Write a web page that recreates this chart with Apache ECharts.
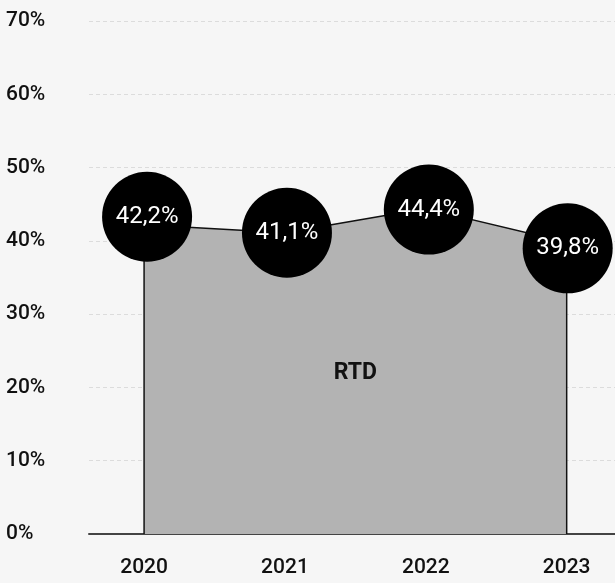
<!DOCTYPE html>
<html>
<head>
<meta charset="utf-8">
<script src="https://cdn.jsdelivr.net/npm/echarts@6/dist/echarts.min.js"></script>
<style>
  html, body { margin: 0; padding: 0; background: #f6f6f6; }
  #chart { width: 615px; height: 583px; }
</style>
</head>
<body>
<div id="chart"></div>
<script>
// data
var years = [2020, 2021, 2022, 2023];
var shares = [42.2, 41.1, 44.4, 39.8];
var seriesName = "RTD";
var yTicks = [0, 10, 20, 30, 40, 50, 60, 70];

// small nudges of the bubbles, as in the original
var bubbleShift = [[3, -8], [2, 0], [3, 1], [1, 6]];

var font = "Roboto, 'DejaVu Sans', sans-serif";

function pct(v) {
  return v.toFixed(1).replace(".", ",") + "%";
}

// area outline: down to the axis at both ends so the sides get a stroke
var outline = [[years[0], 0]];
years.forEach(function (y, i) {
  outline.push([y, shares[i]]);
});
outline.push([years[years.length - 1], 0]);

var bubbles = years.map(function (y, i) {
  return {
    value: [y, shares[i]],
    symbolOffset: bubbleShift[i],
  };
});

var chart = echarts.init(document.getElementById("chart"));

var option = {
  backgroundColor: "#f6f6f6",
  animation: false,
  grid: {
    left: 89,
    right: 0,
    top: 21,
    bottom: 49,
  },
  xAxis: {
    type: "value",
    min: 2019.609,
    max: 2023.343,
    axisLine: {
      show: true,
      onZero: false,
      lineStyle: { color: "#444", width: 2 },
    },
    axisTick: { show: false },
    splitLine: { show: false },
    axisLabel: {
      customValues: years,
      formatter: function (v) { return String(v); },
      color: "#111",
      fontFamily: font,
      fontWeight: 500,
      fontSize: 21,
      margin: 23,
    },
  },
  yAxis: {
    type: "value",
    min: yTicks[0],
    max: yTicks[yTicks.length - 1],
    interval: 10,
    axisLine: { show: false },
    axisTick: { show: false },
    splitLine: {
      lineStyle: { color: "#dcdcdc", type: [4, 3], width: 1 },
    },
    axisLabel: {
      formatter: "{value}%",
      align: "left",
      margin: 83,
      color: "#111",
      fontFamily: font,
      fontWeight: 500,
      fontSize: 21,
    },
  },
  series: [
    {
      name: seriesName,
      type: "line",
      data: outline,
      symbol: "none",
      z: 2,
      lineStyle: { color: "#111", width: 1.5 },
      areaStyle: { color: "#b3b3b3", opacity: 1 },
      markPoint: {
        symbol: "circle",
        symbolSize: 1,
        itemStyle: { color: "rgba(0,0,0,0)" },
        data: [{ coord: [2021.5, 22], value: seriesName }],
        label: {
          show: true,
          position: "inside",
          formatter: seriesName,
          color: "#111",
          fontFamily: font,
          fontWeight: "bold",
          fontSize: 23,
        },
      },
    },
    {
      name: seriesName + " labels",
      type: "scatter",
      data: bubbles,
      symbol: "circle",
      symbolSize: 90,
      z: 5,
      itemStyle: { color: "#000", opacity: 1 },
      label: {
        show: true,
        position: "inside",
        formatter: function (p) { return pct(p.value[1]); },
        color: "#fff",
        fontFamily: font,
        fontSize: 24,
      },
    },
  ],
};

chart.setOption(option);
</script>
</body>
</html>
